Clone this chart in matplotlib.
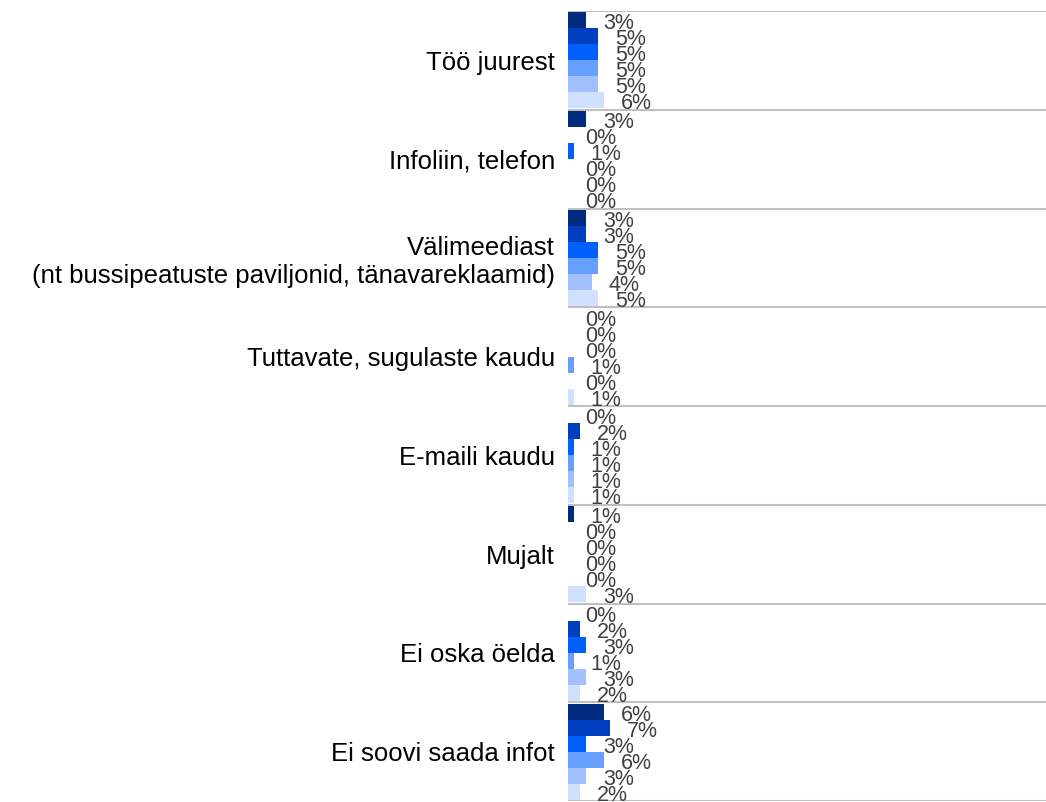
import matplotlib.pyplot as plt
import numpy as np

plt.rcParams['font.family'] = ['Liberation Sans', 'DejaVu Sans']

categories = [
    "Töö juurest",
    "Infoliin, telefon",
    "Välimeediast\n(nt bussipeatuste paviljonid, tänavareklaamid)",
    "Tuttavate, sugulaste kaudu",
    "E-maili kaudu",
    "Mujalt",
    "Ei oska öelda",
    "Ei soovi saada infot",
]

series_names = ["Grupp 1", "Grupp 2", "Grupp 3", "Grupp 4", "Grupp 5", "Grupp 6"]
series_values = [
    [3, 3, 3, 0, 0, 1, 0, 6],
    [5, 0, 3, 0, 2, 0, 2, 7],
    [5, 1, 5, 0, 1, 0, 3, 3],
    [5, 0, 5, 1, 1, 0, 1, 6],
    [5, 0, 4, 0, 1, 0, 3, 3],
    [6, 0, 5, 1, 1, 3, 2, 2],
]
colors = ["#002b7f", "#0040c0", "#0060ff", "#66a0ff", "#a0c0ff", "#d0e0ff"]

fig = plt.figure(figsize=(10.46, 8.02), dpi=100)
ax = fig.add_axes([568 / 1046, 1 / 802, 478 / 1046, 790 / 802])

n = len(categories)
y = np.arange(n)
bar_h = 0.162
offsets = (np.arange(6) - 2.5) * bar_h

for i, (name, vals) in enumerate(zip(series_names, series_values)):
    ypos = y + offsets[i]
    ax.barh(ypos, vals, height=bar_h, color=colors[i], label=name, linewidth=0)
    for yy, v in zip(ypos, vals):
        ax.annotate(f"{v}%", xy=(v, yy), xytext=(12, -2.5), textcoords="offset points",
                    ha="left", va="center", fontsize=15.5, color="#404040")

# category separators
for b in np.arange(n + 1) - 0.5:
    ax.axhline(b, color="#c0c0c0", linewidth=1.5, zorder=0)

ax.set_xlim(0, 478 / 6.05)
ax.set_ylim(n - 0.5, -0.5)
ax.set_yticks(y)
ax.set_yticklabels(categories, fontsize=18.5, ha="right", multialignment="right")
ax.tick_params(axis="y", length=0, pad=9.4)
ax.set_xticks([])
for s in ax.spines.values():
    s.set_visible(False)

fig.savefig("out.png", dpi=100)
